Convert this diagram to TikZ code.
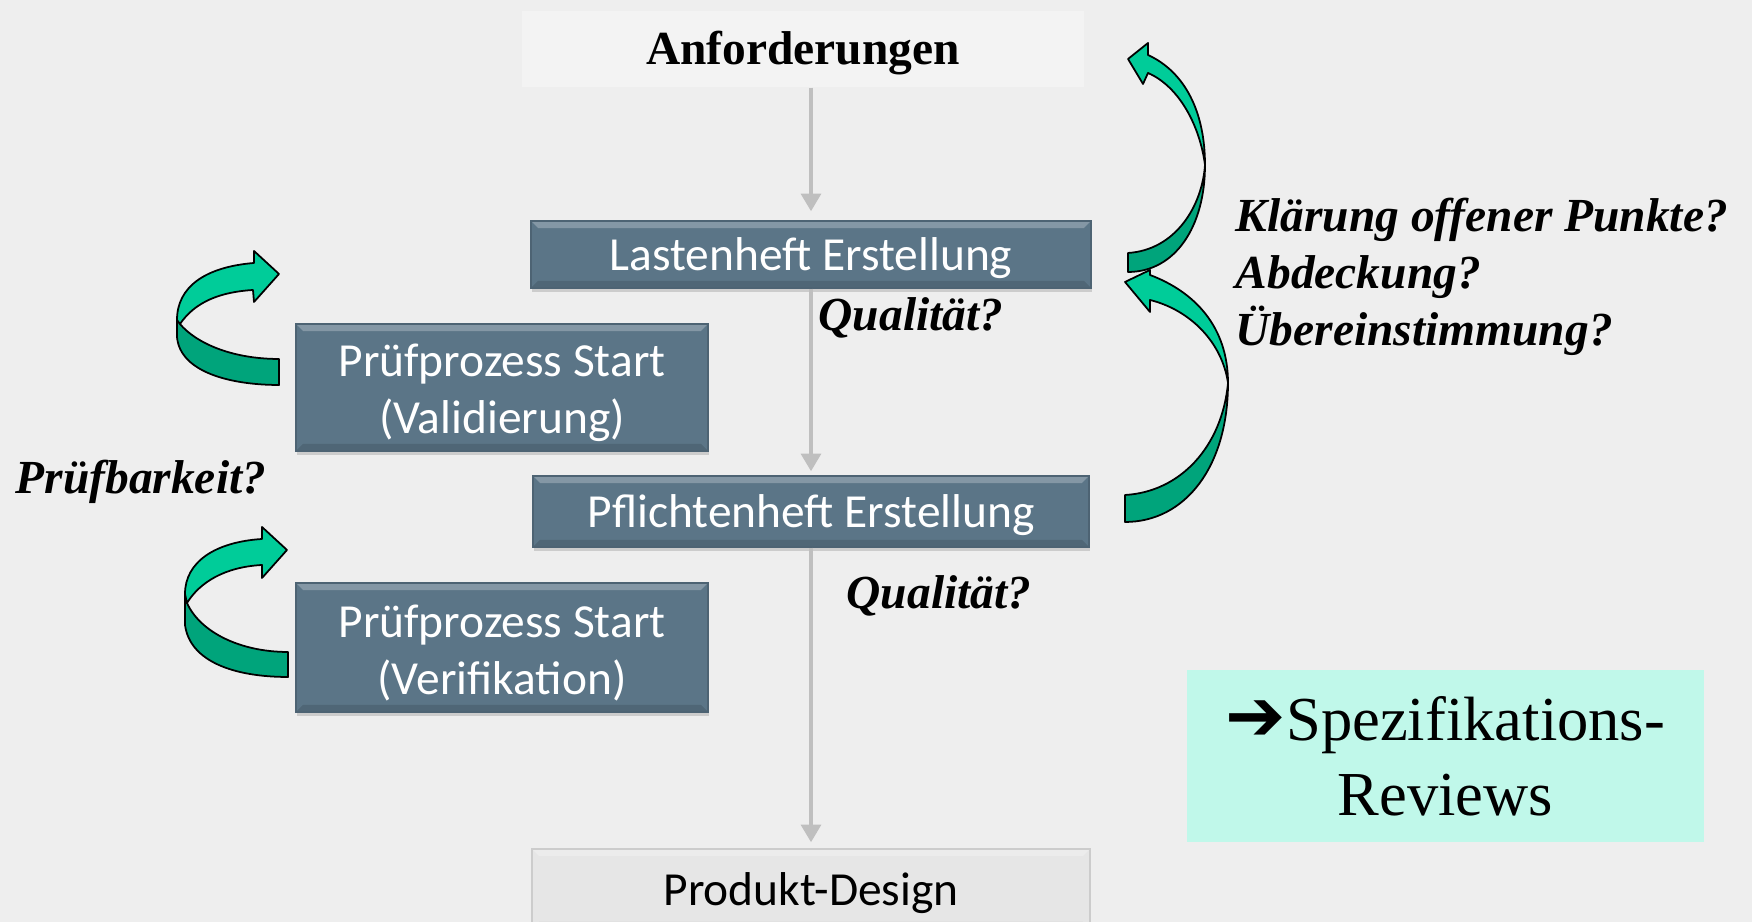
\documentclass[tikz,border=0pt]{standalone}
\usepackage{fontspec}
\setmainfont{Liberation Serif}
\newfontfamily\boxfont{Carlito}
\newfontfamily\symfont{DejaVu Sans}
\usetikzlibrary{shapes,backgrounds}
\usetikzlibrary{arrows.meta,shadows}

\definecolor{bggray}{HTML}{EEEEEE}
\definecolor{stahl}{HTML}{5B7587}
\definecolor{lightbox}{HTML}{F3F3F3}
\definecolor{greybox}{HTML}{E6E6E6}
\definecolor{flowgray}{HTML}{BFBFBF}
\definecolor{mint}{HTML}{C0F8EA}
\definecolor{gruenhell}{HTML}{00CC99}
\definecolor{gruendunkel}{HTML}{00A47B}

\newcommand{\zeilenstrut}{\rule{0pt}{4.4mm}}

\tikzset{
	prozess/.style={fill=stahl, draw=stahl!85!black, line width=0.4pt, text=white, inner sep=0pt, align=center,
		font=\boxfont\fontsize{13.5}{16.2}\selectfont,
		execute at begin node={\rule{0pt}{4.1mm}},
		drop shadow={opacity=0.3, shadow xshift=0.4pt, shadow yshift=-1.2pt},
		path picture={
			\fill[white,opacity=0.25] (path picture bounding box.north west) -- (path picture bounding box.north east) -- ([shift={(-2pt,-2pt)}]path picture bounding box.north east) -- ([shift={(2pt,-2pt)}]path picture bounding box.north west) -- cycle;
			\fill[black,opacity=0.12] (path picture bounding box.south west) -- (path picture bounding box.south east) -- ([shift={(-2pt,2pt)}]path picture bounding box.south east) -- ([shift={(2pt,2pt)}]path picture bounding box.south west) -- cycle;
		}},
	ergebnis/.style={prozess, fill=greybox, draw=gray!40, text=black},
	frage/.style={font=\bfseries\itshape\fontsize{13.5}{16.2}\selectfont, inner sep=0pt},
	fluss/.style={draw=flowgray, line width=1.1pt, -{Triangle[width=5.6pt,length=5pt]}},
	schleife/.style={draw=black, line width=0.5pt, line join=round},
}

\begin{document}
\begin{tikzpicture}
	\useasboundingbox (0,0) rectangle (17.52,9.22);
	\fill[bggray] (0,0) rectangle (17.52,9.22);

	\node[fill=lightbox, inner sep=0pt, minimum width=5.62cm, minimum height=0.76cm, execute at begin node={\rule{0pt}{4.2mm}}, font=\bfseries\fontsize{13.5}{16.2}\selectfont] (anf) at (8.03,8.73) {Anforderungen};
	\node[prozess, minimum width=5.6cm, minimum height=0.67cm] (last) at (8.11,6.675) {Lastenheft Erstellung};
	\node[prozess, minimum width=5.56cm, minimum height=0.71cm] (pfl) at (8.11,4.105) {Pflichtenheft Erstellung};
	\node[ergebnis, minimum width=5.58cm, minimum height=0.8cm] (prod) at (8.11,0.33) {Produkt-Design};
	\node[prozess, minimum width=4.12cm, minimum height=1.27cm] (val) at (5.02,5.345) {\zeilenstrut Prüfprozess Start\\(Validierung)};
	\node[prozess, minimum width=4.12cm, minimum height=1.29cm] (ver) at (5.02,2.745) {\zeilenstrut Prüfprozess Start\\(Verifikation)};
	\node[fill=mint, inner sep=0pt, minimum width=5.17cm, minimum height=1.72cm, align=center, font=\fontsize{17.8}{21.3}\selectfont] (rev) at (14.455,1.66) {{\symfont\bfseries\fontsize{20.5}{21}\selectfont ➔}Spezifikations-\\Reviews};

	\draw[fluss, shorten >=0.09cm] (anf.south -| last.north) -- (last.north);
	\draw[fluss, shorten >=0.04cm] (last.south) -- (pfl.north);
	\draw[fluss, shorten >=0.06cm] (pfl.south) -- (prod.north);

	\node[frage, anchor=base west] (q1) at (8.18,5.915) {Qualität?};
	\node[frage, anchor=base west] (q2) at (8.46,3.135) {Qualität?};
	\node[frage, anchor=base west] (pruef) at (0.15,4.28) {Prüfbarkeit?};
	\node[frage, anchor=north west, align=left] (punkte) at (12.35,7.245) {Klärung offener Punkte?\\Abdeckung?\\Übereinstimmung?};

	\filldraw[schleife, fill=gruendunkel] (12.05,7.57) .. controls (12.05,6.95) and (11.75,6.50) .. (11.28,6.50) -- (11.28,6.69) .. controls (11.75,6.72) and (12.02,7.15) .. (12.05,7.57) -- cycle;
	\filldraw[schleife, fill=gruenhell] (11.28,8.63) -- (11.48,8.79) -- (11.48,8.67) .. controls (11.85,8.50) and (12.05,8.10) .. (12.05,7.57) .. controls (12.00,7.95) and (11.80,8.35) .. (11.48,8.49) -- (11.43,8.38) -- cycle;
	\filldraw[schleife, fill=gruendunkel] (12.28,5.39) .. controls (12.28,4.55) and (11.85,4.00) .. (11.25,4.00) -- (11.25,4.27) .. controls (11.80,4.30) and (12.22,4.75) .. (12.28,5.39) -- cycle;
	\filldraw[schleife, fill=gruenhell] (11.25,6.40) -- (11.50,6.52) -- (11.50,6.47) .. controls (11.95,6.30) and (12.28,5.95) .. (12.28,5.39) .. controls (12.22,5.80) and (11.90,6.12) .. (11.50,6.22) -- (11.50,6.10) -- cycle;
	\filldraw[schleife, fill=gruendunkel] (1.77,6.05) -- (1.77,5.85) .. controls (1.80,5.50) and (2.30,5.37) .. (2.79,5.37) -- (2.79,5.63) .. controls (2.30,5.63) and (1.95,5.80) .. (1.80,5.98) -- cycle;
	\filldraw[schleife, fill=gruenhell] (2.79,6.48) -- (2.54,6.71) -- (2.54,6.59) .. controls (2.05,6.55) and (1.77,6.35) .. (1.77,6.02) -- (1.80,5.98) .. controls (1.95,6.20) and (2.20,6.30) .. (2.53,6.32) -- (2.54,6.20) -- cycle;
	\filldraw[schleife, fill=gruendunkel] (1.85,3.28) -- (1.85,2.97) .. controls (1.90,2.60) and (2.35,2.45) .. (2.88,2.45) -- (2.88,2.70) .. controls (2.40,2.70) and (2.00,2.90) .. (1.87,3.19) -- cycle;
	\filldraw[schleife, fill=gruenhell] (2.87,3.72) -- (2.62,3.95) -- (2.62,3.83) .. controls (2.15,3.80) and (1.85,3.60) .. (1.85,3.28) -- (1.87,3.19) .. controls (2.00,3.40) and (2.25,3.55) .. (2.62,3.57) -- (2.62,3.44) -- cycle;
\end{tikzpicture}
\end{document}
